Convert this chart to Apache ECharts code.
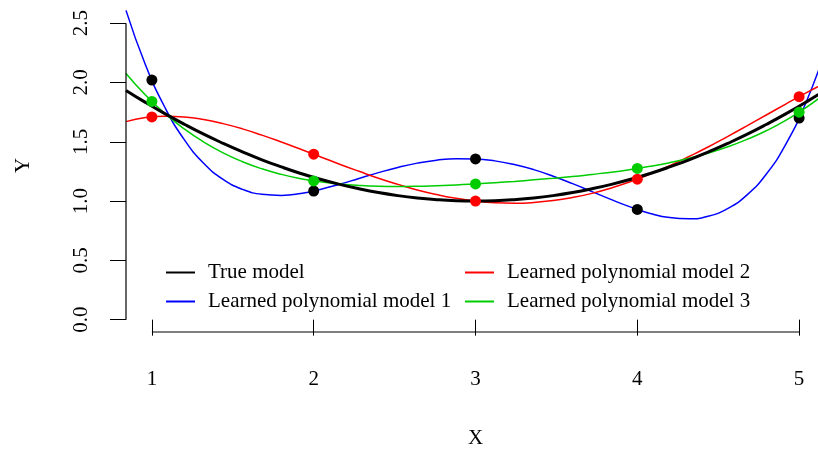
<!DOCTYPE html>
<html><head><meta charset="utf-8">
<script src="https://cdn.jsdelivr.net/npm/echarts@6/dist/echarts.min.js"></script>
<style>html,body{margin:0;padding:0;background:#fff}#c{width:818px;height:450px}</style>
</head><body><div id="c"></div>
<script>
// ---- data ----
const xGrid = [0.84,0.96,1.08,1.20,1.32,1.44,1.56,1.68,1.80,1.92,2.04,2.16,2.28,2.40,2.52,2.64,2.76,2.88,3.00,3.12,3.24,3.36,3.48,3.60,3.72,3.84,3.96,4.08,4.20,4.32,4.44,4.56,4.68,4.80,4.92,5.04,5.16];
const trueModel = [1.933,1.832,1.737,1.648,1.564,1.487,1.415,1.348,1.288,1.233,1.184,1.141,1.104,1.072,1.046,1.026,1.012,1.003,1.000,1.003,1.012,1.026,1.046,1.072,1.104,1.141,1.184,1.233,1.288,1.348,1.415,1.487,1.564,1.648,1.737,1.832,1.933];
const model1 = [2.608,2.150,1.791,1.518,1.319,1.183,1.099,1.057,1.048,1.064,1.098,1.142,1.191,1.240,1.284,1.320,1.345,1.357,1.355,1.339,1.308,1.265,1.210,1.147,1.080,1.012,0.949,0.896,0.861,0.851,0.873,0.938,1.054,1.232,1.485,1.823,2.260];
const model2 = [1.670,1.704,1.716,1.710,1.688,1.653,1.609,1.556,1.498,1.437,1.374,1.311,1.251,1.193,1.141,1.094,1.055,1.023,1.000,0.986,0.982,0.988,1.004,1.030,1.065,1.111,1.165,1.228,1.298,1.376,1.458,1.546,1.636,1.728,1.820,1.910,1.995];
const model3 = [2.076,1.894,1.739,1.608,1.498,1.406,1.332,1.272,1.225,1.189,1.162,1.144,1.132,1.125,1.123,1.125,1.130,1.136,1.145,1.155,1.166,1.179,1.192,1.207,1.225,1.244,1.267,1.293,1.324,1.361,1.406,1.458,1.521,1.595,1.683,1.786,1.907];
const xObs = [1,2,3,4,5];
const obsTrue = [2.02,1.085,1.355,0.93,1.70];
const obs2 = [1.71,1.395,1.00,1.185,1.88];
const obs3 = [1.84,1.17,1.145,1.275,1.75];
const seriesNames = ['True model','Learned polynomial model 1','Learned polynomial model 2','Learned polynomial model 3'];
const xTicks = [1,2,3,4,5];
const xTickLabels = ['1','2','3','4','5'];
const yTicks = [0,0.5,1,1.5,2,2.5];
const yTickLabels = ['0.0','0.5','1.0','1.5','2.0','2.5'];
const xRange = [0.84, 5.16];
const yRange = [-0.104, 2.704];

// ---- chart ----
const FONT = '"Liberation Serif","Times New Roman",serif';
const pair = (xs, ys) => xs.map((x, i) => [x, ys[i]]);
const chart = echarts.init(document.getElementById('c'), null, {renderer: 'canvas'});
const lineS = (name, ys, color, w, z) => ({
  name, type: 'line', data: pair(xGrid, ys), showSymbol: false, symbol: 'none',
  smooth: true, clip: true, z, lineStyle: {color, width: w}, itemStyle: {color}, emphasis: {disabled: true}
});
const dotS = (ys, color, z) => ({
  type: 'scatter', data: pair(xObs, ys), symbol: 'circle', symbolSize: 11, z,
  itemStyle: {color, opacity: 1}, emphasis: {disabled: true}
});
const legendCommon = {
  orient: 'vertical', top: 262, padding: 0, itemGap: 8, itemWidth: 29, itemHeight: 2,
  icon: 'rect', selectedMode: false,
  textStyle: {fontFamily: FONT, fontSize: 21, lineHeight: 21, color: '#000', padding: [0,0,0,8]}
};
chart.setOption({
  animation: false,
  backgroundColor: '#fff',
  grid: {left: 126, top: -1, width: 699, height: 333, containLabel: false, outerBoundsMode: 'none'},
  legend: [
    Object.assign({left: 166, data: [seriesNames[0], seriesNames[1]]}, legendCommon),
    Object.assign({left: 465, data: [seriesNames[2], seriesNames[3]]}, legendCommon)
  ],
  xAxis: {
    type: 'value', min: xRange[0], max: xRange[1],
    name: 'X', nameLocation: 'middle', nameGap: 96,
    nameTextStyle: {fontFamily: FONT, fontSize: 21, color: '#000'},
    axisLine: {show: false}, splitLine: {show: false},
    axisTick: {show: true, length: 16, customValues: xTicks, lineStyle: {color: '#000', width: 1}},
    axisLabel: {customValues: xTicks, margin: 37, fontFamily: FONT, fontSize: 21, color: '#000',
      formatter: v => xTickLabels[xTicks.indexOf(v)] ?? ''}
  },
  yAxis: {
    type: 'value', min: yRange[0], max: yRange[1],
    name: 'Y', nameLocation: 'middle', nameGap: 92, nameRotate: 90,
    nameTextStyle: {fontFamily: FONT, fontSize: 21, color: '#000'},
    axisLine: {show: false}, splitLine: {show: false},
    axisTick: {show: true, length: 16, customValues: yTicks, lineStyle: {color: '#000', width: 1}},
    axisLabel: {customValues: yTicks, margin: 34, rotate: 90, fontFamily: FONT, fontSize: 21, color: '#000',
      formatter: v => { const i = yTicks.findIndex(t => Math.abs(t - v) < 1e-9); return i >= 0 ? yTickLabels[i] : ''; }}
  },
  series: [
    lineS(seriesNames[0], trueModel, '#000000', 3, 5),
    lineS(seriesNames[1], model1, '#0000FF', 1.5, 4),
    lineS(seriesNames[2], model2, '#FF0000', 1.5, 4),
    lineS(seriesNames[3], model3, '#00CD00', 1.5, 4),
    dotS(obsTrue, '#000000', 6),
    dotS(obs2, '#FF0000', 7),
    dotS(obs3, '#00CD00', 8)
  ]
});

// R-style axis lines spanning only the tick range
const px = v => chart.convertToPixel({gridIndex: 0}, v);
const bottomY = px([xRange[0], yRange[0]])[1];
const leftX = px([xRange[0], yRange[0]])[0];
const xa = px([xTicks[0], yRange[0]])[0], xb = px([xTicks[xTicks.length-1], yRange[0]])[0];
const ya = px([xRange[0], yTicks[0]])[1], yb = px([xRange[0], yTicks[yTicks.length-1]])[1];
chart.setOption({
  graphic: [
    {type: 'line', shape: {x1: xa, y1: bottomY, x2: xb, y2: bottomY}, style: {stroke: '#000', lineWidth: 1.2}, z: 10},
    {type: 'line', shape: {x1: leftX, y1: ya, x2: leftX, y2: yb}, style: {stroke: '#000', lineWidth: 1.2}, z: 10}
  ]
});
</script>
</body></html>
